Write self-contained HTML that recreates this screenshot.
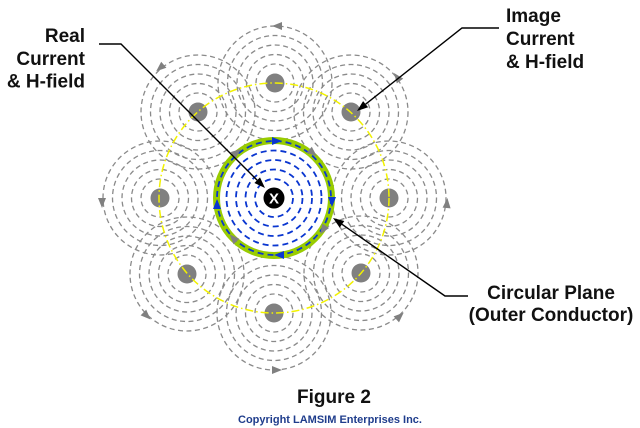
<!DOCTYPE html>
<html>
<head>
<meta charset="utf-8">
<style>
html,body{margin:0;padding:0;background:#fff;}
svg{display:block;}
text{font-family:"Liberation Sans",Arial,sans-serif;font-weight:bold;}
</style>
</head>
<body>
<svg width="640" height="428" viewBox="0 0 640 428" xmlns="http://www.w3.org/2000/svg">
<defs>
<g id="rings" fill="none" stroke="#8a8a8a" stroke-width="1.3" stroke-dasharray="5 3.5">
<circle r="19"/><circle r="28.5"/><circle r="38"/><circle r="47.5"/><circle r="57"/>
</g>
</defs>
<rect width="640" height="428" fill="#fff"/>

<!-- image current field rings -->
<use href="#rings" x="275" y="83"/>
<use href="#rings" x="351" y="112"/>
<use href="#rings" x="389" y="198"/>
<use href="#rings" x="361" y="273"/>
<use href="#rings" x="274" y="313"/>
<use href="#rings" x="187" y="274"/>
<use href="#rings" x="160" y="198"/>
<use href="#rings" x="198" y="112"/>

<!-- image dots -->
<g fill="#808080">
<circle cx="275" cy="83" r="9.5"/>
<circle cx="351" cy="112" r="9.5"/>
<circle cx="389" cy="198" r="9.5"/>
<circle cx="361" cy="273" r="9.5"/>
<circle cx="274" cy="313" r="9.5"/>
<circle cx="187" cy="274" r="9.5"/>
<circle cx="160" cy="198" r="9.5"/>
<circle cx="198" cy="112" r="9.5"/>
</g>

<!-- gray outer arrowheads -->
<g fill="#808080">
<polygon points="272,26 282,22 282,30"/>
<polygon points="156.2,71.3 161.2,61.7 166.4,67.7"/>
<polygon points="394,73 403.2,78.6 396.8,83.4"/>
<polygon points="447.4,198 450.6,208.4 442.6,207.6"/>
<polygon points="403.7,312.6 399,322.4 393.6,316.4"/>
<polygon points="282,370 272,366 272,374"/>
<polygon points="150.6,319.5 140.6,315.4 146.2,309.6"/>
<polygon points="102,208 98,198 106,198"/>
</g>

<!-- yellow dash-dot circle -->
<circle cx="274" cy="198" r="115" fill="none" stroke="#f2f200" stroke-width="1.5" stroke-dasharray="8 3 1.5 3"/>

<!-- main conductor -->
<circle cx="274" cy="198" r="54" fill="#fff"/>
<circle cx="274" cy="198" r="57.5" fill="none" stroke="#99cc00" stroke-width="7"/>
<g fill="none" stroke="#0a36d0" stroke-width="1.8" stroke-dasharray="6 4">
<circle cx="274" cy="198" r="19"/>
<circle cx="274" cy="198" r="28.5"/>
<circle cx="274" cy="198" r="38"/>
<circle cx="274" cy="198" r="47.5"/>
<circle cx="274" cy="198" r="57"/>
</g>

<!-- gray arrows on ring -->
<g fill="#808080">
<polygon points="240.9,148.9 235.6,158.3 230.6,152.1"/>
<polygon points="316.8,156.3 306.6,152.7 311.8,146.7"/>
<polygon points="320.3,234.2 322.3,223.6 329.1,228"/>
<polygon points="229.6,234.4 239.3,238.8 233.5,244.4"/>
</g>

<!-- blue arrows -->
<g fill="#0a36d0">
<polygon points="282,141 272,137 272,145"/>
<polygon points="332,207 328,197 336,197"/>
<polygon points="274,255 284,251 284,259"/>
<polygon points="217,199 213,209 221,209"/>
</g>

<!-- real current -->
<circle cx="274" cy="198" r="10.5" fill="#000"/>
<text x="274" y="203.5" font-size="15" fill="#fff" text-anchor="middle">X</text>

<!-- leaders -->
<g stroke="#000" stroke-width="1.4" fill="none">
<polyline points="99,44 121,44 257.2,180.2"/>
<polyline points="499,28 462,28 365.6,104.2"/>
<polyline points="468,296 445,296 342,224.3"/>
</g>
<g fill="#000">
<polygon points="265,188 254.4,183 260,177.4"/>
<polygon points="357,111 363.1,101.1 368.1,107.3"/>
<polygon points="333,218 344.3,221 339.7,227.6"/>
</g>

<!-- labels -->
<g font-size="19" fill="#111">
<text x="85" y="42" text-anchor="end">Real</text>
<text x="85" y="65" text-anchor="end">Current</text>
<text x="85" y="87.5" text-anchor="end">&amp; H-field</text>
<text x="506" y="22">Image</text>
<text x="506" y="45">Current</text>
<text x="506" y="68">&amp; H-field</text>
<text x="551" y="299" text-anchor="middle">Circular Plane</text>
<text x="551" y="321" text-anchor="middle">(Outer Conductor)</text>
<text x="334" y="403" text-anchor="middle">Figure 2</text>
</g>
<text x="330" y="423" font-size="11" fill="#1f3d8c" text-anchor="middle">Copyright LAMSIM Enterprises Inc.</text>
</svg>
</body>
</html>
